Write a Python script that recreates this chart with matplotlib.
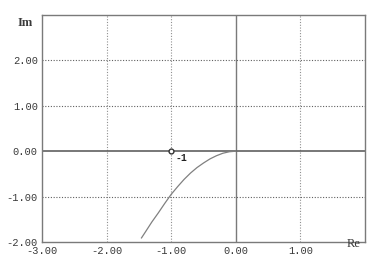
import matplotlib
matplotlib.use("Agg")
import matplotlib.pyplot as plt

# Data (Nyquist-like curve)
curve_re = [-1.46, -1.40, -1.30, -1.20, -1.10, -1.00, -0.90, -0.80, -0.70, -0.60, -0.50, -0.40, -0.30, -0.20, -0.10, 0.0]
curve_im = [-1.91, -1.78, -1.56, -1.36, -1.15, -0.95, -0.78, -0.62, -0.48, -0.36, -0.26, -0.17, -0.10, -0.045, -0.012, 0.0]
point_re = [-1.0]
point_im = [0.0]
point_label = "-1"
x_ticks = [-3, -2, -1, 0, 1]
x_tick_labels = ["-3.00", "-2.00", "-1.00", "0.00", "1.00"]
y_ticks = [-2, -1, 0, 1, 2]
y_tick_labels = ["-2.00", "-1.00", "0.00", "1.00", "2.00"]

line_col = "#7a7a7a"
text_col = "#3a3a3a"
font = "Liberation Mono"

fig = plt.figure(figsize=(3.71, 2.60), dpi=100)
ax = fig.add_axes([42/371, 18/260, (365-42)/371, (242-15)/260])
ax.set_xlim(-3, 2)
ax.set_ylim(-2, 3)

for s in ax.spines.values():
    s.set_color(line_col)
    s.set_linewidth(1.0)

# dotted grid
for x in [-2, -1, 1]:
    ax.axvline(x, color="#909090", linestyle=(0, (1, 1.5)), linewidth=0.8, zorder=1)
for y in [-1, 1, 2]:
    ax.axhline(y, color="#606060", linestyle=(0, (1, 1.5)), linewidth=0.8, zorder=1)
# axes
ax.axvline(0, color=line_col, linewidth=1.0, zorder=2)
ax.axhline(0, color="#606060", linewidth=1.2, zorder=2)

ax.plot(curve_re, curve_im, color="#808080", linewidth=0.9, zorder=3)
ax.plot(point_re, point_im, marker="o", markersize=3.5, markerfacecolor="white",
        markeredgecolor="#333333", markeredgewidth=1.0, linestyle="none", zorder=4)
ax.annotate(point_label, (point_re[0], point_im[0]), xytext=(3, -7), textcoords="offset points",
            fontsize=7, fontweight="bold", family=font, color="#222222")

ax.set_xticks(x_ticks)
ax.set_xticklabels(x_tick_labels)
ax.set_yticks(y_ticks)
ax.set_yticklabels(y_tick_labels)
ax.tick_params(length=0, pad=3, labelsize=7.5, labelcolor=text_col)
for lab in ax.get_xticklabels() + ax.get_yticklabels():
    lab.set_family(font)

fig.text(25/371, 1 - 23/260, "Im", fontsize=9, family="Liberation Serif", color=text_col,
         ha="center", va="center", fontweight="bold")
fig.text(354/371, 1 - 244/260, "Re", fontsize=9, family="Liberation Serif", color=text_col,
         ha="center", va="center")

fig.savefig("out.png", dpi=100, facecolor="white")
